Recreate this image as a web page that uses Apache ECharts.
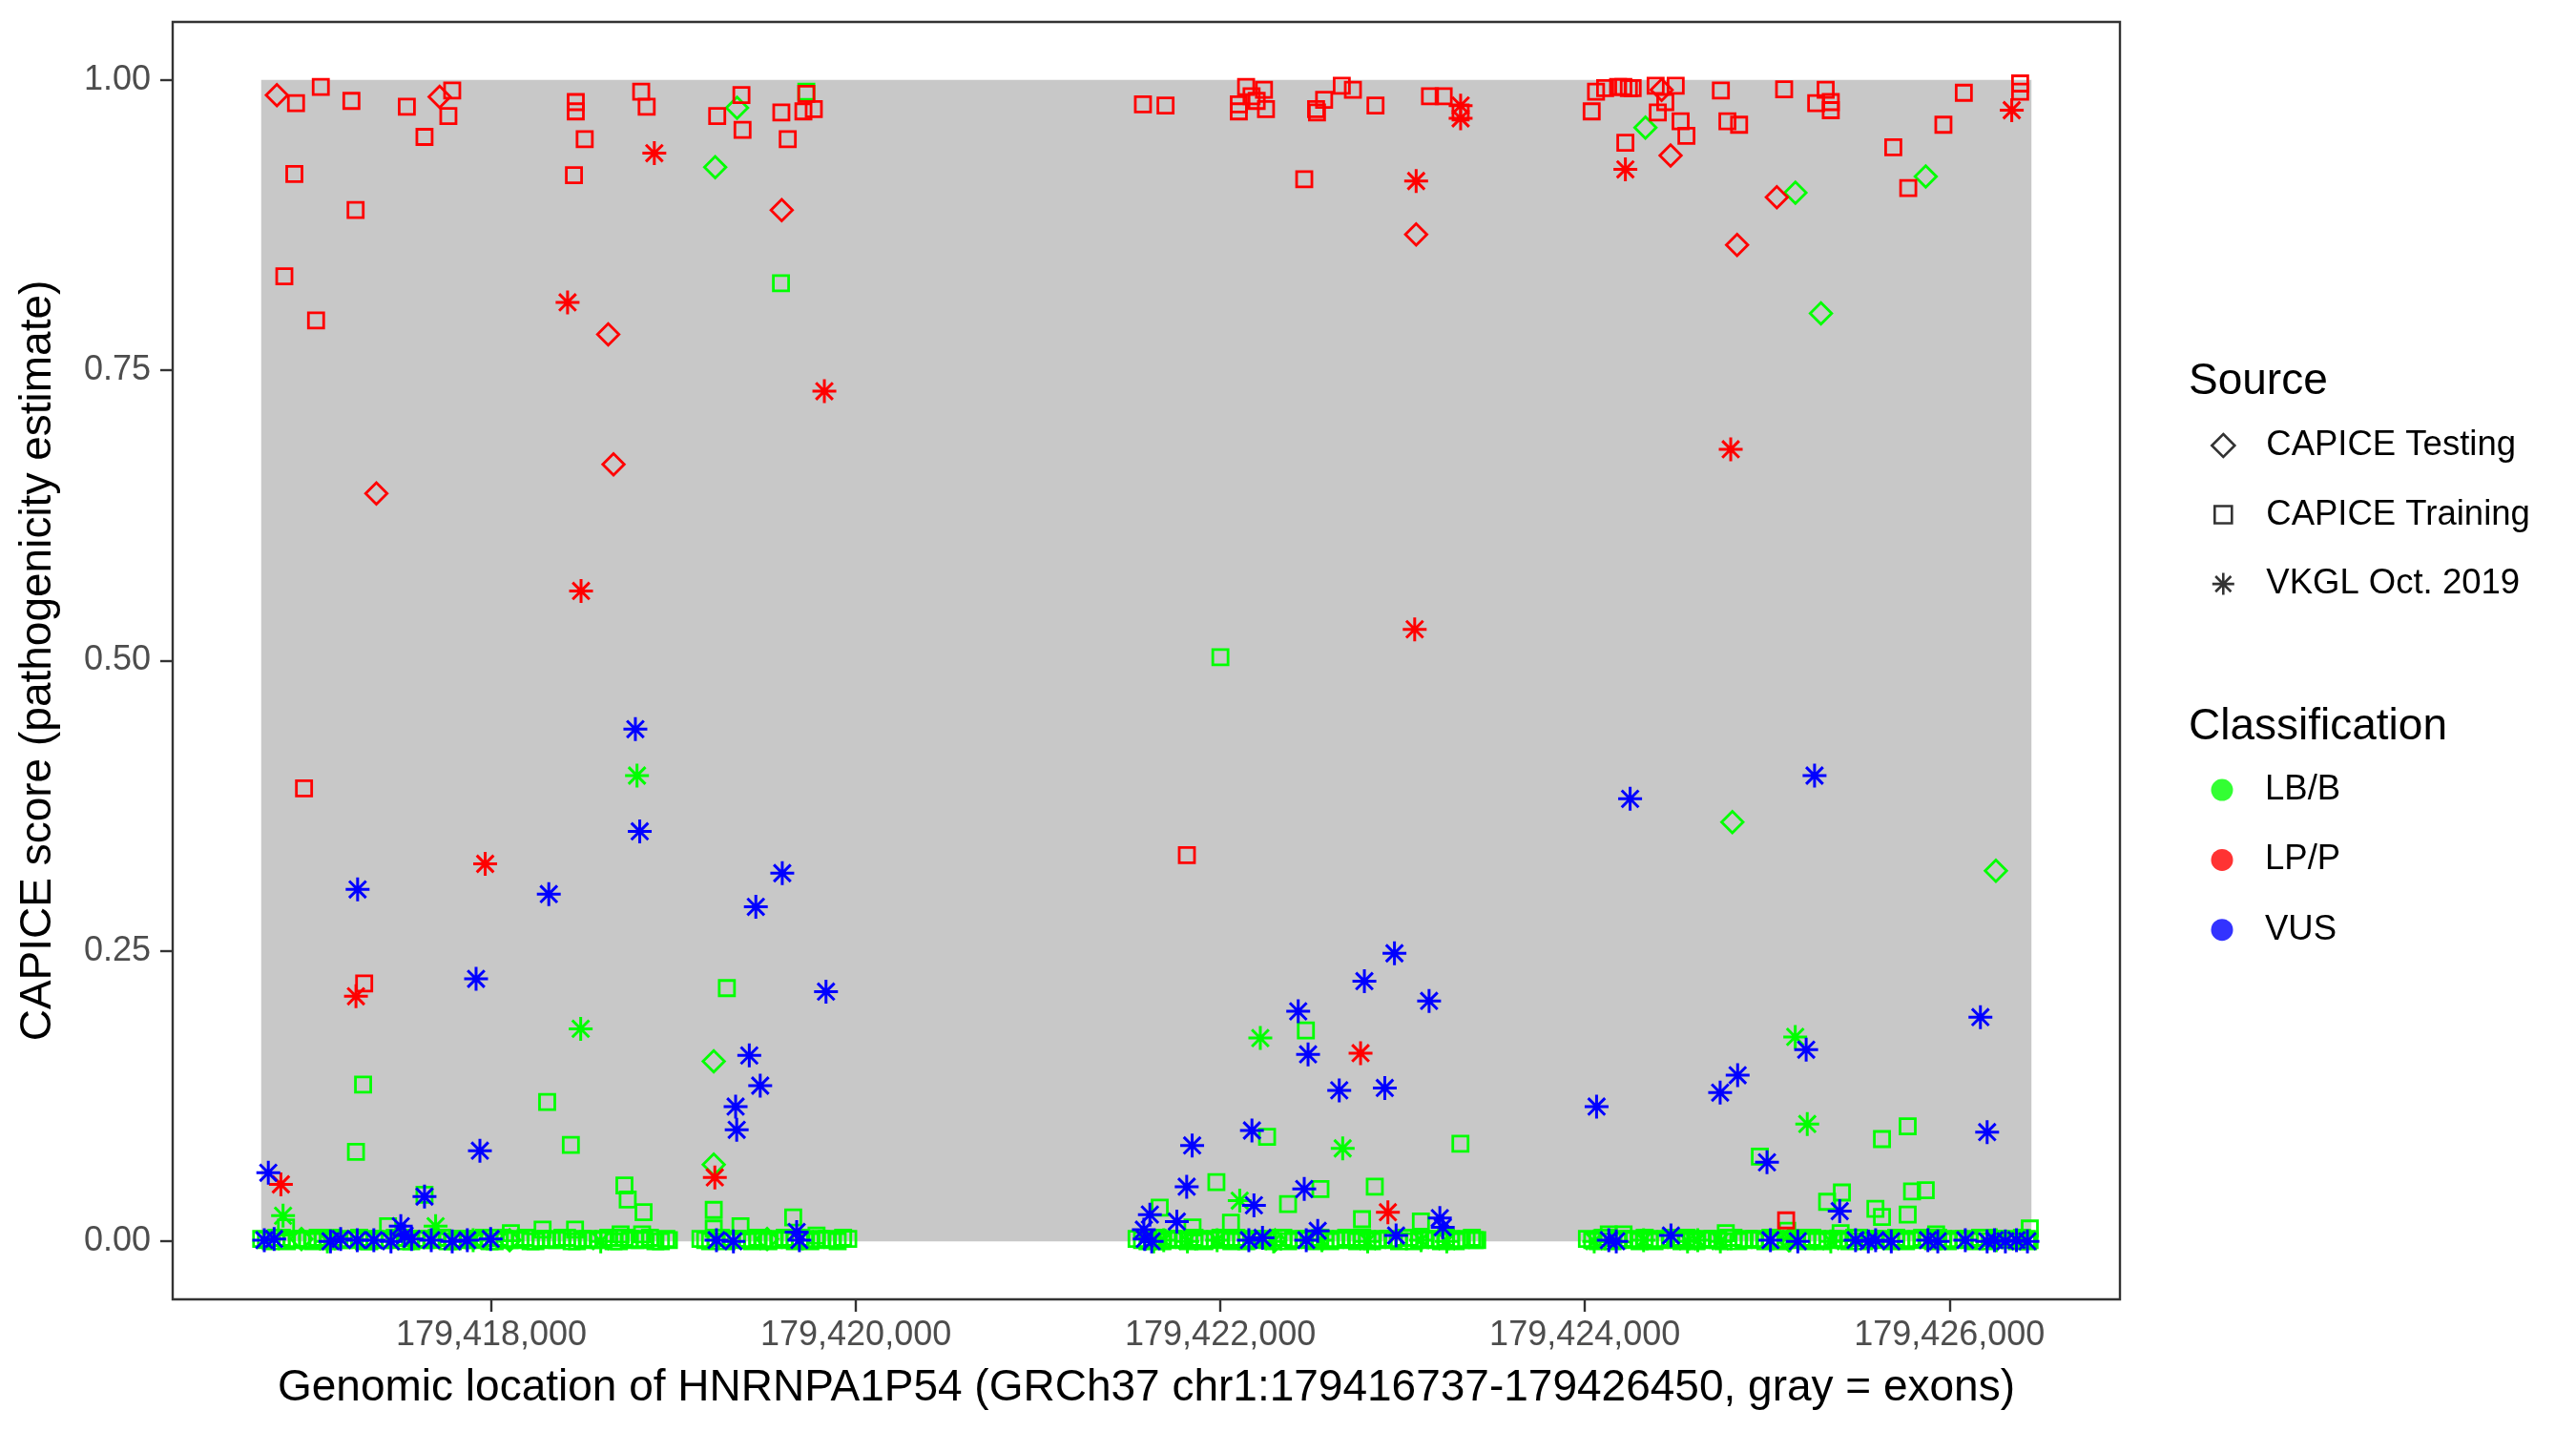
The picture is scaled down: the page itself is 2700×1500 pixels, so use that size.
<!DOCTYPE html>
<html>
<head>
<meta charset="utf-8">
<script src="https://cdn.jsdelivr.net/npm/echarts@6/dist/echarts.min.js"></script>
<style>html,body{margin:0;padding:0;background:#fff}#chart{width:2700px;height:1500px}</style>
</head>
<body>
<div id="chart"></div>
<script>
// ---------- data ----------
const geneStart = 179416737;
const geneEnd = 179426450;
const exons = [[179416737, 179426450]];
const xTicks = [179418000, 179420000, 179422000, 179424000, 179426000];
const yTicks = [0, 0.25, 0.5, 0.75, 1];
const sourceNames = ['CAPICE Testing', 'CAPICE Training', 'VKGL Oct. 2019'];
const classNames = ['LB/B', 'LP/P', 'VUS'];

// CAPICE Training, LB/B: dense band of near-zero scores
const trainingLBBBand = [
[179416737,0.002],[179416790,0.000],[179416850,0.003],[179416905,0.001],[179416960,0.002],[179417020,0.000],[179417075,0.001],[179417130,0.003],[179417190,0.001],[179417250,0.002],[179417300,0.000],[179417360,0.002],[179417415,0.001],[179417470,0.003],[179417530,0.000],[179417590,0.002],[179417640,0.001],[179417700,0.003],[179417760,0.000],[179417815,0.002],[179417870,0.001],[179417930,0.002],[179417990,0.000],[179418045,0.003],[179418100,0.001],[179418160,0.002],[179418215,0.000],[179418270,0.002],[179418330,0.001],[179418390,0.003],[179418440,0.000],[179418500,0.002],[179418560,0.001],[179418615,0.002],[179418670,0.000],[179418730,0.003],[179418790,0.001],[179418840,0.002],[179418900,0.000],[179418960,0.002],[179418974,0.001],
[179419147,0.002],[179419200,0.000],[179419260,0.003],[179419320,0.001],[179419375,0.002],[179419430,0.000],[179419490,0.002],[179419550,0.001],[179419610,0.003],[179419665,0.000],[179419720,0.002],[179419780,0.001],[179419840,0.002],[179419900,0.000],[179419958,0.002],
[179421540,0.002],[179421600,0.000],[179421655,0.003],[179421710,0.001],[179421770,0.002],[179421830,0.000],[179421885,0.002],[179421940,0.001],[179422000,0.003],[179422060,0.000],[179422115,0.002],[179422170,0.001],[179422230,0.002],[179422290,0.000],[179422345,0.003],[179422400,0.001],[179422460,0.002],[179422520,0.000],[179422575,0.002],[179422630,0.001],[179422690,0.003],[179422750,0.000],[179422805,0.002],[179422860,0.001],[179422920,0.002],[179422980,0.000],[179423035,0.003],[179423090,0.001],[179423150,0.002],[179423210,0.000],[179423265,0.002],[179423320,0.001],[179423380,0.003],[179423409,0.001],
[179424011,0.002],[179424070,0.000],[179424125,0.003],[179424180,0.001],[179424240,0.002],[179424300,0.000],[179424355,0.002],[179424410,0.001],[179424470,0.003],[179424530,0.000],[179424585,0.002],[179424640,0.001],[179424700,0.002],[179424760,0.000],[179424815,0.003],[179424870,0.001],[179424930,0.002],[179424990,0.000],[179425045,0.002],[179425100,0.001],[179425160,0.003],[179425220,0.000],[179425275,0.002],[179425330,0.001],[179425390,0.002],[179425450,0.000],[179425505,0.003],[179425560,0.001],[179425620,0.002],[179425680,0.000],[179425735,0.002],[179425790,0.001],[179425850,0.003],[179425910,0.000],[179425965,0.002],[179426020,0.001],[179426080,0.002],[179426140,0.000],[179426195,0.003],[179426250,0.001],[179426310,0.002],[179426370,0.000],[179426425,0.002],[179426440,0.001],
[179416763,0.001],[179416820,0.003],[179416878,0.000],[179416932,0.002],[179416990,0.001],[179417047,0.003],[179417103,0.000],[179417160,0.002],[179417220,0.001],[179417275,0.003],[179417330,0.000],[179417388,0.002],[179417442,0.001],[179417500,0.003],[179417560,0.000],[179417615,0.002],[179417670,0.001],[179417730,0.003],[179417788,0.000],[179417842,0.002],[179417900,0.001],[179417960,0.003],[179418018,0.000],[179418072,0.002],[179418130,0.001],[179418188,0.003],[179418242,0.000],[179418300,0.002],[179418360,0.001],[179418415,0.003],[179418470,0.000],[179418530,0.002],[179418588,0.001],[179418642,0.003],[179418700,0.000],[179418760,0.002],[179418815,0.001],[179418870,0.003],[179418930,0.000],
[179419173,0.001],[179419230,0.003],[179419290,0.000],[179419348,0.002],[179419402,0.001],[179419460,0.003],[179419520,0.000],[179419580,0.002],[179419638,0.001],[179419692,0.003],[179419750,0.000],[179419810,0.002],[179419870,0.001],[179419930,0.003],
[179421570,0.001],[179421628,0.003],[179421682,0.000],[179421740,0.002],[179421800,0.001],[179421858,0.003],[179421912,0.000],[179421970,0.002],[179422030,0.001],[179422088,0.003],[179422142,0.000],[179422200,0.002],[179422260,0.001],[179422318,0.003],[179422372,0.000],[179422430,0.002],[179422490,0.001],[179422548,0.003],[179422602,0.000],[179422660,0.002],[179422720,0.001],[179422778,0.003],[179422832,0.000],[179422890,0.002],[179422950,0.001],[179423008,0.003],[179423062,0.000],[179423120,0.002],[179423180,0.001],[179423238,0.003],[179423292,0.000],[179423350,0.002],[179423395,0.001],
[179424040,0.001],[179424098,0.003],[179424152,0.000],[179424210,0.002],[179424270,0.001],[179424328,0.003],[179424382,0.000],[179424440,0.002],[179424500,0.001],[179424558,0.003],[179424612,0.000],[179424670,0.002],[179424730,0.001],[179424788,0.003],[179424842,0.000],[179424900,0.002],[179424960,0.001],[179425018,0.003],[179425072,0.000],[179425130,0.002],[179425190,0.001],[179425248,0.003],[179425302,0.000],[179425360,0.002],[179425420,0.001],[179425478,0.003],[179425532,0.000],[179425590,0.002],[179425650,0.001],[179425708,0.003],[179425762,0.000],[179425820,0.002],[179425880,0.001],[179425938,0.003],[179425992,0.000],[179426050,0.002],[179426110,0.001],[179426168,0.003],[179426222,0.000],[179426280,0.002],[179426340,0.001],[179426398,0.003],[179426432,0.000]
];
const trainingLBB = [
[179419728,0.990],[179419589,0.825],[179422000,0.503],[179419292,0.218],[179417296,0.135],[179418306,0.120],[179418436,0.083],[179417257,0.077],[179418730,0.048],[179418748,0.036],[179418835,0.025],[179417633,0.040],[179419220,0.027],[179419656,0.0205],[179416873,0.012],[179417433,0.013],[179418107,0.007],[179418281,0.010],[179418459,0.010],[179418709,0.006],[179418827,0.006],[179419220,0.011],[179419367,0.013],[179419784,0.005],
[179422256,0.090],[179423317,0.084],[179421978,0.051],[179422371,0.032],[179422549,0.045],[179422847,0.047],[179422777,0.019],[179421667,0.029],[179422058,0.016],[179421847,0.012],[179423100,0.017],[179422469,0.1815],
[179425771,0.099],[179425630,0.088],[179424960,0.073],[179425329,0.034],[179425410,0.042],[179425594,0.028],[179425630,0.021],[179425795,0.043],[179425870,0.044],[179425771,0.023],[179426441,0.011],[179424131,0.006],[179424212,0.006],[179424773,0.007],[179425403,0.007],[179425927,0.006],[179425110,0.009]
];
// CAPICE Training, LP/P
const trainingLPP = [
[179416928,0.980],[179417064,0.994],[179417232,0.982],[179417536,0.977],[179417785,0.991],[179417764,0.969],[179417633,0.951],[179416919,0.919],[179417255,0.888],[179416864,0.831],[179417038,0.793],[179418463,0.981],[179418463,0.973],[179418512,0.949],[179418453,0.918],[179418822,0.990],[179418852,0.977],[179419239,0.969],[179419372,0.987],[179419378,0.957],[179419591,0.972],[179419626,0.949],[179419712,0.973],[179419769,0.975],[179419728,0.988],[179416972,0.390],[179417302,0.222],
[179421575,0.979],[179421699,0.978],[179422141,0.994],[179422239,0.9915],[179422171,0.986],[179422199,0.982],[179422101,0.979],[179422101,0.973],[179422250,0.975],[179422569,0.983],[179422525,0.975],[179422530,0.972],[179422666,0.995],[179422727,0.9915],[179422851,0.978],[179422460,0.9145],[179423150,0.986],[179423225,0.986],[179423318,0.972],[179421816,0.3325],
[179424037,0.973],[179424061,0.990],[179424111,0.993],[179424182,0.994],[179424211,0.994],[179424241,0.993],[179424262,0.993],[179424388,0.995],[179424498,0.995],[179424441,0.981],[179424400,0.972],[179424525,0.9645],[179424557,0.952],[179424222,0.946],[179424746,0.991],[179424782,0.9645],[179424846,0.9615],[179425093,0.992],[179425321,0.9915],[179425269,0.980],[179425349,0.981],[179425349,0.974],[179426079,0.989],[179425967,0.9615],[179425692,0.942],[179425774,0.907],[179426388,0.997],[179426388,0.990],[179425104,0.018]
];
// CAPICE Testing
const testingLBB = [
[179419348,0.976],[179419228,0.925],[179419220,0.155],[179419220,0.066],[179424332,0.959],[179425870,0.917],[179425155,0.903],[179425295,0.799],[179424809,0.361],[179426255,0.319],
[179416958,0.002],[179419513,0.002],[179425119,0.001],[179422300,0.001],[179418100,0.001]
];
const testingLPP = [
[179416823,0.987],[179417716,0.9855],[179418641,0.781],[179419593,0.888],[179418670,0.669],[179417369,0.644],[179423074,0.867],[179424421,0.9915],[179424470,0.935],[179425053,0.899],[179424835,0.858]
];
// VKGL Oct. 2019
const vkglLBB = [
[179418799,0.401],[179418490,0.183],[179416857,0.022],[179417694,0.013],[179422219,0.175],[179422671,0.080],[179422106,0.035],[179425154,0.176],[179425220,0.101],
[179421634,0.000],[179421689,0.001],[179421819,0.000],[179421982,0.001],[179422292,0.000],[179422557,0.001],[179422808,0.000],[179423101,0.001],[179423242,0.000],
[179424051,0.000],[179424322,0.001],[179424563,0.000],[179424619,0.001],[179424743,0.000],[179425124,0.001],[179425349,0.000],[179426257,0.001],
[179417100,0.000],[179417900,0.001],[179418600,0.000]
];
const vkglLPP = [
[179418418,0.8085],[179418894,0.937],[179419827,0.732],[179418492,0.560],[179417966,0.325],[179417257,0.211],[179416845,0.049],[179419226,0.055],[179423074,0.913],[179423318,0.978],[179423318,0.967],[179423066,0.527],[179422769,0.162],[179422919,0.025],[179424222,0.923],[179424800,0.682],[179426342,0.974]
];
const vkglVUS = [
[179418790,0.441],[179418814,0.353],[179417266,0.303],[179418315,0.299],[179419596,0.317],[179419451,0.288],[179417916,0.226],[179419836,0.215],[179419415,0.160],[179419475,0.134],[179419340,0.116],[179419346,0.096],[179417937,0.078],[179416776,0.059],[179417633,0.0385],[179417503,0.013],[179417524,0.005],
[179416754,0.001],[179416808,0.002],[179417117,0.000],[179417173,0.002],[179417264,0.001],[179417355,0.001],[179417449,0.000],[179417562,0.002],[179417670,0.001],[179417785,0.000],[179417868,0.001],[179417996,0.002],
[179419235,0.001],[179419328,0.000],[179419675,0.008],[179419690,0.001],
[179422955,0.248],[179422790,0.224],[179423145,0.207],[179422427,0.198],[179422481,0.161],[179422652,0.130],[179422902,0.132],[179421845,0.0825],[179422173,0.0954],[179421815,0.047],[179422184,0.031],[179422460,0.045],[179421613,0.023],[179421761,0.017],[179423204,0.020],[179423220,0.012],[179422534,0.009],[179421580,0.010],
[179421585,0.002],[179421623,0.000],[179422156,0.001],[179422231,0.003],[179422471,0.001],[179422964,0.005],
[179424248,0.381],[179425260,0.401],[179426170,0.193],[179425214,0.165],[179424838,0.143],[179424742,0.128],[179424064,0.116],[179426207,0.094],[179424999,0.068],[179425398,0.026],
[179424131,0.001],[179424172,0.000],[179424472,0.005],[179425018,0.001],[179425168,0.000],[179425485,0.001],[179425555,0.000],[179425595,0.001],[179425681,0.000],[179425882,0.001],[179425936,0.000],[179426087,0.001],[179426207,0.000],[179426247,0.001],[179426307,0.000],[179426368,0.001],[179426428,0.000]
];

// ---------- styling ----------
const FONT = "'Liberation Sans', Arial, Helvetica, sans-serif";
const GREEN = '#00FF00', RED = '#FF0000', BLUE = '#0000FF';
const ASTER = 'path://M10,0 L10,20 M0,10 L20,10 M2.93,2.93 L17.07,17.07 M2.93,17.07 L17.07,2.93';
const SHAPES = {'CAPICE Testing': 'diamond', 'CAPICE Training': 'rect', 'VKGL Oct. 2019': ASTER};
const SIZES = {'CAPICE Testing': 22.5, 'CAPICE Training': 16, 'VKGL Oct. 2019': 25};
const WIDTHS = {'CAPICE Testing': 2.8, 'CAPICE Training': 2.8, 'VKGL Oct. 2019': 3.0};
const COLORS = {'LB/B': GREEN, 'LP/P': RED, 'VUS': BLUE};

const span = geneEnd - geneStart;
const xMin = geneStart - 0.05 * span;
const xMax = geneEnd + 0.05 * span;

function pts(name, source, cls, data) {
  return {
    type: 'scatter', name: name, data: data,
    symbol: SHAPES[source], symbolSize: SIZES[source],
    itemStyle: {color: 'rgba(0,0,0,0)', borderColor: COLORS[cls], borderWidth: WIDTHS[source], opacity: 1},
    emphasis: {disabled: true}, silent: true, z: 3, clip: false
  };
}
function dummy(name) { return {type: 'scatter', name: name, data: [], silent: true}; }

const series = [
  {type: 'scatter', name: 'exons', data: [], silent: true, z: 1,
   markArea: {silent: true, itemStyle: {color: '#C8C8C8', opacity: 1},
     data: exons.map(e => [{xAxis: e[0], yAxis: 0}, {xAxis: e[1], yAxis: 1}])}},
  pts('Training LB/B band', 'CAPICE Training', 'LB/B', trainingLBBBand),
  pts('Training LB/B', 'CAPICE Training', 'LB/B', trainingLBB),
  pts('Testing LB/B', 'CAPICE Testing', 'LB/B', testingLBB),
  pts('VKGL LB/B', 'VKGL Oct. 2019', 'LB/B', vkglLBB),
  pts('Training LP/P', 'CAPICE Training', 'LP/P', trainingLPP),
  pts('Testing LP/P', 'CAPICE Testing', 'LP/P', testingLPP),
  pts('VKGL LP/P', 'VKGL Oct. 2019', 'LP/P', vkglLPP),
  pts('VKGL VUS', 'VKGL Oct. 2019', 'VUS', vkglVUS)
].concat(sourceNames.map(dummy), classNames.map(dummy));

const legendText = {fontSize: 36.5, color: '#000', fontFamily: FONT};
// one legend block per Source entry so each icon gets its own size
const srcIcon = [
  {name: 'CAPICE Testing', size: 24, cy: 466.5},
  {name: 'CAPICE Training', size: 18, cy: 539},
  {name: 'VKGL Oct. 2019', size: 23, cy: 611.6}
];
const legends = srcIcon.map(s => ({
  orient: 'vertical', left: 2329 - s.size / 2, top: s.cy - 18, padding: 0,
  itemWidth: s.size, itemHeight: s.size, selectedMode: false,
  textStyle: Object.assign({padding: [0, 0, 0, 40 - s.size / 2]}, legendText),
  data: [{name: s.name, icon: SHAPES[s.name],
    itemStyle: {color: 'rgba(0,0,0,0)', borderColor: '#000', borderWidth: 2.6}}]
}));
legends.push({
  orient: 'vertical', left: 2329 - 11.5, top: 827.6 - 18, padding: 0,
  itemWidth: 23, itemHeight: 23, itemGap: 36.3, selectedMode: false,
  textStyle: Object.assign({padding: [0, 0, 0, 40 - 11.5]}, legendText),
  data: classNames.map(n => ({name: n, icon: 'circle', itemStyle: {color: COLORS[n], borderWidth: 0}}))
});

const chart = echarts.init(document.getElementById('chart'), null, {renderer: 'canvas'});
chart.setOption({
  backgroundColor: '#ffffff',
  animation: false,
  grid: {left: 181, right: 478, top: 23, bottom: 138, show: true, borderColor: '#333333', borderWidth: 2.4, backgroundColor: 'transparent'},
  xAxis: {
    type: 'value', min: xMin, max: xMax, scale: true,
    name: 'Genomic location of HNRNPA1P54 (GRCh37 chr1:179416737-179426450, gray = exons)',
    nameLocation: 'middle', nameGap: 70,
    nameTextStyle: {fontSize: 46, color: '#000', fontFamily: FONT},
    axisLine: {show: false, onZero: false},
    splitLine: {show: false},
    axisTick: {show: true, customValues: xTicks, length: 13, lineStyle: {color: '#333333', width: 2.4}},
    axisLabel: {customValues: xTicks, margin: 20, fontSize: 36, color: '#4D4D4D', fontFamily: FONT,
      formatter: v => Number(v).toLocaleString('en-US')}
  },
  yAxis: {
    type: 'value', min: -0.05, max: 1.05,
    name: 'CAPICE score (pathogenicity estimate)',
    nameLocation: 'middle', nameGap: 118,
    nameTextStyle: {fontSize: 46, color: '#000', fontFamily: FONT},
    axisLine: {show: false, onZero: false},
    splitLine: {show: false},
    axisTick: {show: true, customValues: yTicks, length: 13, lineStyle: {color: '#333333', width: 2.4}},
    axisLabel: {customValues: yTicks, margin: 23, fontSize: 36, color: '#4D4D4D', fontFamily: FONT,
      formatter: v => Number(v).toFixed(2)}
  },
  legend: legends,
  graphic: [
    {type: 'text', x: 2294, y: 400, silent: true,
     style: {text: 'Source', fontSize: 46, fontFamily: FONT, fill: '#000', textAlign: 'left', textVerticalAlign: 'middle', align: 'left', verticalAlign: 'middle'}},
    {type: 'text', x: 2294, y: 762, silent: true,
     style: {text: 'Classification', fontSize: 46, fontFamily: FONT, fill: '#000', textAlign: 'left', textVerticalAlign: 'middle', align: 'left', verticalAlign: 'middle'}}
  ],
  series: series
});
</script>
</body>
</html>
